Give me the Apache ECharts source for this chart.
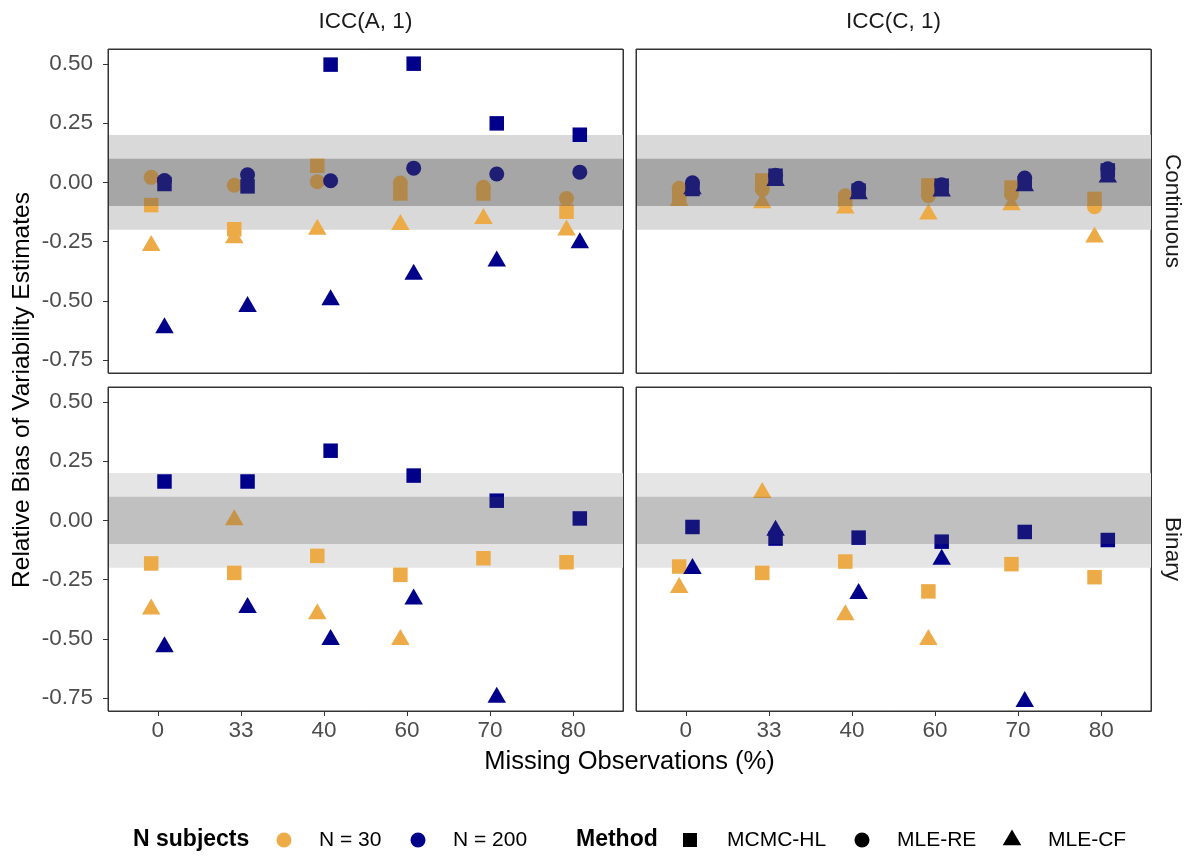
<!DOCTYPE html>
<html>
<head>
<meta charset="utf-8">
<script src="https://cdn.jsdelivr.net/npm/echarts@6/dist/echarts.min.js"></script>
<style>
html,body{margin:0;padding:0;background:#fff;}
#chart{width:1190px;height:856px;}
</style>
</head>
<body>
<div id="chart"></div>
<script>
// ---------- DATA ----------
const categories = ['0', '33', '40', '60', '70', '80'];
const yTicks = [-0.75, -0.5, -0.25, 0, 0.25, 0.5];
const colNames = ['ICC(A, 1)', 'ICC(C, 1)'];
const rowNames = ['Continuous', 'Binary'];

// Continuous, ICC(A,1)
const contA_n30_mcmc  = [-0.096, -0.198, 0.070, -0.047, -0.047, -0.124];
const contA_n30_mlere = [0.021, -0.012, 0.003, -0.003, -0.021, -0.068];
const contA_n30_mlecf = [-0.245, -0.212, -0.176, -0.156, -0.131, -0.179];
const contA_n200_mcmc  = [-0.007, -0.017, 0.497, 0.501, 0.249, 0.201];
const contA_n200_mlere = [0.008, 0.032, 0.007, 0.060, 0.035, 0.043];
const contA_n200_mlecf = [-0.592, -0.502, -0.474, -0.366, -0.310, -0.233];

// Continuous, ICC(C,1)
const contC_n30_mcmc  = [-0.060, 0.008, -0.075, -0.013, -0.022, -0.070];
const contC_n30_mlere = [-0.025, -0.030, -0.057, -0.056, -0.050, -0.103];
const contC_n30_mlecf = [-0.055, -0.064, -0.086, -0.112, -0.073, -0.209];
const contC_n200_mcmc  = [-0.028, 0.028, -0.035, -0.014, -0.004, 0.050];
const contC_n200_mlere = [-0.002, 0.030, -0.025, -0.010, 0.018, 0.057];
const contC_n200_mlecf = [-0.005, 0.030, -0.026, -0.015, 0.008, 0.045];

// Binary, ICC(A,1)
const binA_n30_mcmc  = [-0.182, -0.222, -0.150, -0.230, -0.160, -0.177];
const binA_n30_mlere = [null, null, null, null, null, null];
const binA_n30_mlecf = [-0.352, 0.024, -0.372, -0.481, null, null];
const binA_n200_mcmc  = [0.164, 0.164, 0.294, 0.189, 0.083, 0.008];
const binA_n200_mlere = [null, null, null, null, null, null];
const binA_n200_mlecf = [-0.512, -0.346, -0.481, -0.310, -0.725, null];

// Binary, ICC(C,1)
const binC_n30_mcmc  = [-0.195, -0.222, -0.174, -0.300, -0.185, -0.240];
const binC_n30_mlere = [null, null, null, null, null, null];
const binC_n30_mlecf = [-0.262, 0.140, -0.377, -0.481, null, null];
const binC_n200_mcmc  = [-0.028, -0.077, -0.073, -0.090, -0.049, -0.083];
const binC_n200_mlere = [null, null, null, null, null, null];
const binC_n200_mlecf = [-0.181, -0.020, -0.287, -0.142, -0.743, null];

// ---------- STYLE / LAYOUT ----------
const FONT = '"Liberation Sans", Arial, sans-serif';
const COL30 = '#ECAB47';
const COL200 = '#00008B';
const DODGE = 0.08;
const grids = [
  {left: 108, top: 49, width: 515, height: 324},
  {left: 636, top: 49, width: 515, height: 324},
  {left: 108, top: 387, width: 515, height: 324},
  {left: 636, top: 387, width: 515, height: 324}
];
const panels = [
  {n30: [contA_n30_mcmc, contA_n30_mlere, contA_n30_mlecf], n200: [contA_n200_mcmc, contA_n200_mlere, contA_n200_mlecf]},
  {n30: [contC_n30_mcmc, contC_n30_mlere, contC_n30_mlecf], n200: [contC_n200_mcmc, contC_n200_mlere, contC_n200_mlecf]},
  {n30: [binA_n30_mcmc, binA_n30_mlere, binA_n30_mlecf], n200: [binA_n200_mcmc, binA_n200_mlere, binA_n200_mlecf]},
  {n30: [binC_n30_mcmc, binC_n30_mlere, binC_n30_mlecf], n200: [binC_n200_mcmc, binC_n200_mlere, binC_n200_mlecf]}
];
const symbols = [
  {symbol: 'rect', size: 14.5, offset: [0, 0]},
  {symbol: 'circle', size: 15, offset: [0, 0]},
  {symbol: 'triangle', size: [18.5, 16], offset: [0, 2.7]}
];
// light band colour (under the points) and dark band overlay alpha (over the points)
const lightBand = ['#d9d9d9', '#d9d9d9', '#e5e5e5', '#e5e5e5'];
const darkAlpha = [0.372, 0.372, 0.248, 0.248];

function pts(arr, off) {
  const out = [];
  arr.forEach((v, i) => { if (v !== null && v !== undefined) out.push([i + off, v]); });
  return out;
}

const xAxes = [], yAxes = [], series = [];
grids.forEach((g, gi) => {
  const bottomRow = gi >= 2;
  const leftCol = gi % 2 === 0;
  xAxes.push({
    type: 'value', gridIndex: gi, min: -0.6, max: 5.6,
    splitLine: {show: false},
    axisLine: {show: false, onZero: false},
    axisTick: {show: bottomRow, length: 5, lineStyle: {color: '#333333'}, customValues: [0, 1, 2, 3, 4, 5]},
    axisLabel: {show: bottomRow, margin: 8, color: '#4d4d4d', fontSize: 22.5, fontFamily: FONT,
      customValues: [0, 1, 2, 3, 4, 5],
      formatter: v => categories[Math.round(v)]}
  });
  yAxes.push({
    type: 'value', gridIndex: gi, min: -0.805, max: 0.563,
    splitLine: {show: false},
    axisLine: {show: false, onZero: false},
    axisTick: {show: leftCol, length: 5, lineStyle: {color: '#333333'}, customValues: yTicks},
    axisLabel: {show: leftCol, margin: 15, color: '#4d4d4d', fontSize: 22.5, fontFamily: FONT,
      customValues: yTicks,
      formatter: v => v.toFixed(2)}
  });
  // light band beneath points
  series.push({
    type: 'scatter', xAxisIndex: gi, yAxisIndex: gi, data: [], z: 1, silent: true, animation: false,
    markArea: {
      silent: true, z: 1,
      data: [[{yAxis: -0.2, itemStyle: {color: lightBand[gi]}}, {yAxis: 0.2}]]
    }
  });
  const p = panels[gi];
  [[p.n30, COL30, -DODGE, 'N = 30'], [p.n200, COL200, DODGE, 'N = 200']].forEach(([arrs, col, off, nm]) => {
    arrs.forEach((arr, mi) => {
      series.push({
        type: 'scatter', xAxisIndex: gi, yAxisIndex: gi, name: nm,
        data: pts(arr, off),
        symbol: symbols[mi].symbol, symbolSize: symbols[mi].size, symbolOffset: symbols[mi].offset,
        itemStyle: {color: col, opacity: 1},
        z: 2, silent: true, animation: false
      });
    });
  });
  // dark band drawn over the points
  series.push({
    type: 'scatter', xAxisIndex: gi, yAxisIndex: gi, data: [], z: 5, silent: true, animation: false,
    markArea: {
      silent: true, z: 10,
      data: [[{yAxis: -0.1, itemStyle: {color: 'rgba(80,80,80,' + darkAlpha[gi] + ')'}}, {yAxis: 0.1}]]
    }
  });
});

// ---------- TEXT / LEGEND GRAPHICS ----------
const graphic = [];
// panel borders drawn on top of the bands
grids.forEach(g => {
  graphic.push({type: 'rect', z: 100, silent: true,
    shape: {x: g.left + 0.5, y: g.top + 0.5, width: g.width, height: g.height},
    style: {fill: 'none', stroke: '#333333', lineWidth: 1}});
});
const txt = (text, x, y, opts) => Object.assign({
  type: 'text', x: x, y: y,
  style: Object.assign({text: text, font: '22.5px ' + FONT, fill: '#1a1a1a', align: 'center', verticalAlign: 'middle'}, opts || {})
});
graphic.push(txt(colNames[0], 365.5, 22));
graphic.push(txt(colNames[1], 893.5, 22));
graphic.push(Object.assign(txt(rowNames[0], 1172, 211), {rotation: -Math.PI / 2}));
graphic.push(Object.assign(txt(rowNames[1], 1172, 549), {rotation: -Math.PI / 2}));
graphic.push(Object.assign(txt('Relative Bias of Variability Estimates', 22, 390, {fill: '#000', font: '24.5px ' + FONT}), {rotation: Math.PI / 2}));
graphic.push(txt('Missing Observations (%)', 629.5, 762, {fill: '#000', font: '25.5px ' + FONT}));

// legend
const LY = 840;
graphic.push(txt('N subjects', 133, LY, {fill: '#000', align: 'left', font: 'bold 23px ' + FONT}));
graphic.push({type: 'circle', shape: {cx: 284, cy: LY, r: 7.5}, style: {fill: COL30}});
graphic.push(txt('N = 30', 319, LY, {fill: '#000', align: 'left', font: '21px ' + FONT}));
graphic.push({type: 'circle', shape: {cx: 418, cy: LY, r: 7.5}, style: {fill: COL200}});
graphic.push(txt('N = 200', 453, LY, {fill: '#000', align: 'left', font: '21px ' + FONT}));
graphic.push(txt('Method', 576, LY, {fill: '#000', align: 'left', font: 'bold 23px ' + FONT}));
graphic.push({type: 'rect', shape: {x: 683, y: LY - 7, width: 14, height: 14}, style: {fill: '#000'}});
graphic.push(txt('MCMC-HL', 727, LY, {fill: '#000', align: 'left', font: '21px ' + FONT}));
graphic.push({type: 'circle', shape: {cx: 862, cy: LY, r: 7.5}, style: {fill: '#000'}});
graphic.push(txt('MLE-RE', 897, LY, {fill: '#000', align: 'left', font: '21px ' + FONT}));
graphic.push({type: 'polygon', shape: {points: [[1012, LY - 10.5], [1021.3, LY + 5.3], [1002.7, LY + 5.3]]}, style: {fill: '#000'}});
graphic.push(txt('MLE-CF', 1048, LY, {fill: '#000', align: 'left', font: '21px ' + FONT}));

const chart = echarts.init(document.getElementById('chart'), null, {renderer: 'canvas'});
chart.setOption({
  backgroundColor: '#ffffff',
  animation: false,
  textStyle: {fontFamily: FONT},
  grid: grids.map(g => Object.assign({show: true, borderColor: '#333333', borderWidth: 1, backgroundColor: '#ffffff', containLabel: false}, g)),
  xAxis: xAxes,
  yAxis: yAxes,
  series: series,
  graphic: graphic
});
</script>
</body>
</html>
